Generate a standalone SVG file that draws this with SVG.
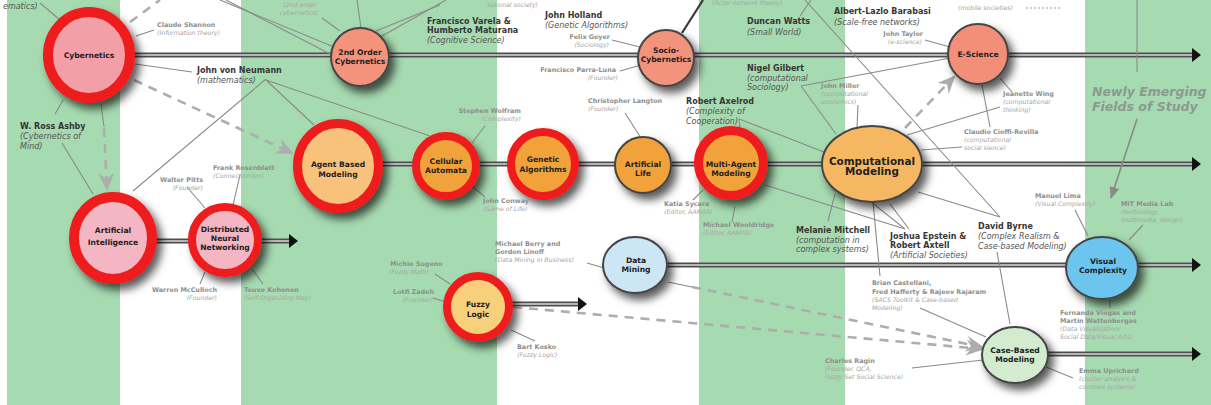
<svg xmlns="http://www.w3.org/2000/svg" width="1211" height="405" viewBox="0 0 1211 405">
<defs>
<style>
.band{fill:#a6dab0}
.tl{stroke:#4e4e4e;stroke-width:5;fill:none}
.tli{stroke:#d8d8d8;stroke-width:1.6;fill:none}
.ln{stroke:#8a8a8a;stroke-width:1.1;fill:none}
.lnd{stroke:#3a3a3a;stroke-width:2.2;fill:none}
.dash{stroke:#adadad;stroke-width:2.6;stroke-dasharray:9 7;fill:none}
.dot{stroke:#9a9a9a;stroke-width:1.2;stroke-dasharray:2 2;fill:none}
.ring{stroke:#ee1b1b}
.nb{stroke:#454545;stroke-width:2}
text{font-family:"DejaVu Sans","Liberation Sans",sans-serif}
.nt{font-weight:bold;font-size:7.6px;fill:#222;text-anchor:middle}
.pn{font-weight:bold;font-size:8px;fill:#363636}
.pi{font-style:italic;font-size:8px;fill:#555}
.sn{font-weight:bold;font-size:6.4px;fill:#8e8e8e}
.si{font-style:italic;font-size:6.2px;fill:#a6a6a6}
.end{text-anchor:end}
.big{font-weight:bold;font-style:italic;font-size:12.5px;fill:#8b9992}
</style>
<filter id="sh" x="-30%" y="-30%" width="180%" height="180%">
<feDropShadow dx="5" dy="6" stdDeviation="4" flood-color="#000" flood-opacity="0.65"/>
</filter>
<marker id="tarr" viewBox="0 0 9 14" refX="1" refY="7" markerWidth="9" markerHeight="14" markerUnits="userSpaceOnUse" orient="auto">
<path d="M0,0 L9,7 L0,14 z" fill="#111"/>
</marker>
<marker id="darr" viewBox="0 0 18 16" refX="16" refY="8" markerWidth="18" markerHeight="16" markerUnits="userSpaceOnUse" orient="auto">
<path d="M0,0 L18,8 L0,16 L6,8 z" fill="#adadad"/>
</marker>
<marker id="garr" viewBox="0 0 12 10" refX="11" refY="5" markerWidth="12" markerHeight="10" markerUnits="userSpaceOnUse" orient="auto">
<path d="M0,0 L12,5 L0,10 z" fill="#8a8a8a"/>
</marker>
</defs>

<rect width="1211" height="405" fill="#fff"/>
<g id="bands">
<rect class="band" x="7" y="0" width="113" height="405"/>
<rect class="band" x="241" y="0" width="256" height="405"/>
<rect class="band" x="699" y="0" width="146" height="405"/>
<rect class="band" x="1085" y="0" width="126" height="405"/>
</g>

<g id="connectors">
<line class="tl" x1="89" y1="55" x2="1193" y2="55" marker-end="url(#tarr)"/>
<line class="tli" x1="89" y1="55" x2="1192" y2="55"/>
<line class="tl" x1="338" y1="164" x2="1193" y2="164" marker-end="url(#tarr)"/>
<line class="tli" x1="338" y1="164" x2="1192" y2="164"/>
<line class="tl" x1="113" y1="241" x2="290" y2="241" marker-end="url(#tarr)"/>
<line class="tli" x1="113" y1="241" x2="289" y2="241"/>
<line class="tl" x1="478" y1="304" x2="579" y2="304" marker-end="url(#tarr)"/>
<line class="tli" x1="478" y1="304" x2="578" y2="304"/>
<line class="tl" x1="635" y1="265" x2="1193" y2="265" marker-end="url(#tarr)"/>
<line class="tli" x1="635" y1="265" x2="1192" y2="265"/>
<line class="tl" x1="1015" y1="354" x2="1193" y2="354" marker-end="url(#tarr)"/>
<line class="tli" x1="1015" y1="354" x2="1192" y2="354"/>

<line class="dash" x1="130" y1="22" x2="160" y2="0"/>
<line class="dash" x1="134" y1="80" x2="292" y2="153" marker-end="url(#darr)"/>
<path class="ln" d="M101,104 L104,127"/>
<line class="dash" x1="104" y1="128" x2="107" y2="189" marker-end="url(#darr)"/>
<line class="dash" x1="905" y1="128" x2="954" y2="77" marker-end="url(#darr)"/>
<line class="ln" x1="668" y1="282" x2="692" y2="287"/>
<line class="dash" x1="692" y1="287" x2="982" y2="347" marker-end="url(#darr)"/>
<line class="dash" x1="513" y1="307" x2="982" y2="349" marker-end="url(#darr)"/>

<line class="ln" x1="40" y1="3" x2="60" y2="20"/>
<line class="ln" x1="136" y1="36" x2="154" y2="30"/>
<line class="ln" x1="135" y1="64" x2="192" y2="72"/>
<line class="ln" x1="55" y1="114" x2="63" y2="100"/>
<line class="ln" x1="62" y1="143" x2="93" y2="194"/>
<line class="ln" x1="266" y1="79" x2="133" y2="191"/>
<line class="ln" x1="266" y1="80" x2="314" y2="125"/>
<line class="ln" x1="266" y1="80" x2="430" y2="136"/>
<line class="ln" x1="220" y1="0" x2="334" y2="47"/>
<line class="ln" x1="226" y1="0" x2="334" y2="56"/>
<line class="ln" x1="357" y1="0" x2="361" y2="28"/>
<line class="ln" x1="322" y1="18" x2="340" y2="31"/>
<line class="ln" x1="376" y1="31" x2="440" y2="5"/>
<line class="ln" x1="382" y1="36" x2="446" y2="0"/>
<line class="ln" x1="612" y1="40" x2="640" y2="47"/>
<line class="ln" x1="620" y1="71" x2="641" y2="65"/>
<line class="lnd" x1="682" y1="33" x2="703" y2="0"/>
<line class="ln" x1="800" y1="16" x2="811" y2="0"/>
<line class="ln" x1="805" y1="0" x2="1000" y2="217"/>
<line class="ln" x1="925" y1="40" x2="950" y2="47"/>
<line class="ln" x1="1000" y1="78" x2="1012" y2="92"/>
<line class="ln" x1="982" y1="85" x2="990" y2="127"/>
<line class="ln" x1="1137" y1="0" x2="1137" y2="72"/>
<line class="ln" x1="1137" y1="119" x2="1111" y2="198" marker-end="url(#garr)" style="stroke-width:1.6"/>
<line class="ln" x1="801" y1="86" x2="836" y2="134"/>
<line class="ln" x1="801" y1="86" x2="950" y2="58"/>
<line class="ln" x1="858" y1="105" x2="857" y2="128"/>
<line class="ln" x1="739" y1="119" x2="824" y2="152"/>
<line class="ln" x1="739" y1="119" x2="741" y2="138"/>
<line class="ln" x1="907" y1="135" x2="1000" y2="107"/>
<line class="ln" x1="921" y1="150" x2="962" y2="147"/>
<line class="ln" x1="835" y1="194" x2="828" y2="221"/>
<line class="ln" x1="870" y1="201" x2="905" y2="229"/>
<line class="ln" x1="890" y1="204" x2="909" y2="229"/>
<line class="ln" x1="765" y1="185" x2="905" y2="229"/>
<line class="ln" x1="873" y1="202" x2="880" y2="276"/>
<line class="ln" x1="918" y1="192" x2="1000" y2="217"/>
<line class="ln" x1="997" y1="252" x2="1010" y2="324"/>
<line class="ln" x1="920" y1="308" x2="986" y2="337"/>
<line class="ln" x1="912" y1="368" x2="983" y2="360"/>
<line class="ln" x1="1046" y1="367" x2="1073" y2="378"/>
<line class="ln" x1="1075" y1="210" x2="1088" y2="236"/>
<line class="ln" x1="1143" y1="225" x2="1129" y2="240"/>
<line class="ln" x1="1110" y1="296" x2="1110" y2="308"/>
<line class="ln" x1="485" y1="126" x2="472" y2="143"/>
<line class="ln" x1="472" y1="186" x2="485" y2="197"/>
<line class="ln" x1="625" y1="113" x2="641" y2="138"/>
<line class="ln" x1="703" y1="190" x2="693" y2="200"/>
<line class="ln" x1="735" y1="206" x2="732" y2="222"/>
<line class="ln" x1="240" y1="175" x2="233" y2="205"/>
<line class="ln" x1="187" y1="187" x2="205" y2="208"/>
<line class="ln" x1="205" y1="272" x2="200" y2="284"/>
<line class="ln" x1="252" y1="269" x2="263" y2="284"/>
<line class="ln" x1="435" y1="274" x2="450" y2="284"/>
<line class="ln" x1="433" y1="298" x2="446" y2="302"/>
<line class="ln" x1="511" y1="330" x2="535" y2="341"/>
<line class="ln" x1="587" y1="263" x2="604" y2="268"/>
<line class="dot" x1="1026" y1="8" x2="1062" y2="8"/>
</g>

<g id="n-cybernetics">
<ellipse cx="89" cy="55" rx="41" ry="43" fill="#f29fa8" class="ring" stroke-width="10" filter="url(#sh)"/>
<text class="nt" x="89" y="58">Cybernetics</text>
</g>
<g id="n-2nd-order">
<circle cx="360" cy="57" r="29" fill="#f4937c" class="nb" filter="url(#sh)"/>
<text class="nt" x="360" y="55">2nd Order</text>
<text class="nt" x="360" y="64">Cybernetics</text>
</g>
<g id="n-socio">
<circle cx="666" cy="58" r="28" fill="#f4937c" class="nb" filter="url(#sh)"/>
<text class="nt" x="666" y="53">Socio-</text>
<text class="nt" x="666" y="62">Cybernetics</text>
</g>
<g id="n-escience">
<circle cx="978" cy="54" r="30" fill="#f38f78" class="nb" filter="url(#sh)"/>
<text class="nt" x="978" y="57">E-Science</text>
</g>
<g id="n-abm">
<ellipse cx="338" cy="166" rx="40.5" ry="42.5" fill="#f8c27c" class="ring" stroke-width="9" filter="url(#sh)"/>
<text class="nt" x="338" y="167">Agent Based</text>
<text class="nt" x="338" y="177">Modeling</text>
</g>
<g id="n-ca">
<circle cx="446" cy="166" r="30" fill="#f2a23a" class="ring" stroke-width="8" filter="url(#sh)"/>
<text class="nt" x="446" y="164">Cellular</text>
<text class="nt" x="446" y="173">Automata</text>
</g>
<g id="n-ga">
<circle cx="543" cy="164" r="32" fill="#f2a23a" class="ring" stroke-width="8" filter="url(#sh)"/>
<text class="nt" x="543" y="162">Genetic</text>
<text class="nt" x="543" y="172">Algorithms</text>
</g>
<g id="n-alife">
<circle cx="643" cy="165" r="28" fill="#f2a23a" class="nb" filter="url(#sh)"/>
<text class="nt" x="643" y="167">Artificial</text>
<text class="nt" x="643" y="176">Life</text>
</g>
<g id="n-mam">
<circle cx="731" cy="163" r="32.5" fill="#f2a23a" class="ring" stroke-width="9" filter="url(#sh)"/>
<text class="nt" x="731" y="167">Multi-Agent</text>
<text class="nt" x="731" y="176">Modeling</text>
</g>
<g id="n-cm">
<ellipse cx="872" cy="164" rx="50" ry="38" fill="#f6b764" class="nb" filter="url(#sh)"/>
<text class="nt" x="872" y="165" style="font-size:10.4px">Computational</text>
<text class="nt" x="872" y="175" style="font-size:10.4px">Modeling</text>
</g>
<g id="n-ai">
<ellipse cx="113" cy="238" rx="39" ry="41" fill="#f4b6c2" class="ring" stroke-width="10" filter="url(#sh)"/>
<text class="nt" x="113" y="233">Artificial</text>
<text class="nt" x="113" y="245">Intelligence</text>
</g>
<g id="n-dnn">
<circle cx="225" cy="240" r="33" fill="#f4b6c2" class="ring" stroke-width="8" filter="url(#sh)"/>
<text class="nt" x="225" y="232">Distributed</text>
<text class="nt" x="225" y="241">Neural</text>
<text class="nt" x="225" y="250">Networking</text>
</g>
<g id="n-fuzzy">
<circle cx="478" cy="307" r="31" fill="#f8d07c" class="ring" stroke-width="8" filter="url(#sh)"/>
<text class="nt" x="478" y="307">Fuzzy</text>
<text class="nt" x="478" y="317">Logic</text>
</g>
<g id="n-dm">
<ellipse cx="635" cy="265" rx="32" ry="28" fill="#cde6f6" class="nb" filter="url(#sh)"/>
<text class="nt" x="636" y="263">Data</text>
<text class="nt" x="636" y="272">Mining</text>
</g>
<g id="n-vc">
<ellipse cx="1102" cy="268" rx="36" ry="31" fill="#6cc5ef" class="nb" filter="url(#sh)"/>
<text class="nt" x="1103" y="264">Visual</text>
<text class="nt" x="1103" y="273">Complexity</text>
</g>
<g id="n-cbm">
<ellipse cx="1015" cy="355" rx="33" ry="28" fill="#d3ecd0" class="nb" filter="url(#sh)"/>
<text class="nt" x="1015" y="353">Case-Based</text>
<text class="nt" x="1015" y="362">Modeling</text>
</g>

<g id="people">
<text class="pi" x="3" y="9">ematics)</text>
<text class="sn" x="157" y="27">Claude Shannon</text>
<text class="si" x="157" y="35">(Information theory)</text>
<text class="si end" x="316" y="7">(2nd order</text>
<text class="si end" x="318" y="15">cybernetics)</text>
<text class="si end" x="538" y="7">sational society)</text>
<text class="pn" x="427" y="24">Francisco Varela &amp;</text>
<text class="pn" x="427" y="33">Humberto Maturana</text>
<text class="pi" x="427" y="43">(Cognitive Science)</text>
<text class="pn" x="545" y="18">John Holland</text>
<text class="pi" x="545" y="28">(Genetic Algorithms)</text>
<text class="sn end" x="610" y="39">Felix Geyer</text>
<text class="si end" x="609" y="47">(Sociology)</text>
<text class="sn end" x="616" y="72">Francisco Parra-Luna</text>
<text class="si end" x="618" y="80">(Founder)</text>
<text class="si" x="712" y="5">(Actor network theory)</text>
<text class="pn" x="747" y="24">Duncan Watts</text>
<text class="pi" x="747" y="35">(Small World)</text>
<text class="pn" x="834" y="14">Albert-Lazlo Barabasi</text>
<text class="pi" x="834" y="25">(Scale-free networks)</text>
<text class="si" x="958" y="10">(mobile societies)</text>
<text class="sn end" x="923" y="36">John Taylor</text>
<text class="si end" x="922" y="44">(e-science)</text>
<text class="pn" x="197" y="73">John von Neumann</text>
<text class="pi" x="197" y="83">(mathematics)</text>
<text class="pn" x="747" y="71">Nigel Gilbert</text>
<text class="pi" x="747" y="81">(computational</text>
<text class="pi" x="747" y="90">Sociology)</text>
<text class="sn" x="821" y="88">John Miller</text>
<text class="si" x="821" y="96">(computational</text>
<text class="si" x="821" y="104">economics)</text>
<text class="sn" x="1003" y="96">Jeanette Wing</text>
<text class="si" x="1003" y="104">(computational</text>
<text class="si" x="1003" y="112">thinking)</text>
<text class="sn" x="964" y="134">Claudio Cioffi-Revilla</text>
<text class="si" x="964" y="142">(computational</text>
<text class="si" x="964" y="150">social sience)</text>
<text class="big" x="1092" y="96">Newly Emerging</text>
<text class="big" x="1092" y="111">Fields of Study</text>
<text class="pn" x="20" y="129">W. Ross Ashby</text>
<text class="pi" x="20" y="139">(Cybernetics of</text>
<text class="pi" x="20" y="149">Mind)</text>
<text class="sn end" x="521" y="113">Stephen Wolfram</text>
<text class="si end" x="521" y="121">(Complexity)</text>
<text class="sn" x="588" y="103">Christopher Langton</text>
<text class="si" x="588" y="111">(Founder)</text>
<text class="pn" x="686" y="104">Robert Axelrod</text>
<text class="pi" x="686" y="114">(Complexity of</text>
<text class="pi" x="686" y="124">Cooperation)</text>
<text class="sn" x="213" y="170">Frank Rosenblatt</text>
<text class="si" x="213" y="178">(Connectionism)</text>
<text class="sn end" x="203" y="182">Walter Pitts</text>
<text class="si end" x="203" y="190">(Founder)</text>
<text class="sn" x="483" y="203">John Conway</text>
<text class="si" x="483" y="211">(Game of Life)</text>
<text class="sn" x="664" y="206">Katia Sycara</text>
<text class="si" x="664" y="214">(Editor, AAMAS)</text>
<text class="sn" x="703" y="227">Michael Wooldridge</text>
<text class="si" x="703" y="235">(Editor, AAMAS)</text>
<text class="pn" x="796" y="233">Melanie Mitchell</text>
<text class="pi" x="796" y="243">(computation in</text>
<text class="pi" x="796" y="252">complex systems)</text>
<text class="pn" x="890" y="239">Joshua Epstein &amp;</text>
<text class="pn" x="890" y="248">Robert Axtell</text>
<text class="pi" x="890" y="258">(Artificial Societies)</text>
<text class="pn" x="978" y="229">David Byrne</text>
<text class="pi" x="978" y="239">(Complex Realism &amp;</text>
<text class="pi" x="978" y="249">Case-based Modeling)</text>
<text class="sn" x="1035" y="198">Manuel Lima</text>
<text class="si" x="1035" y="206">(Visual Complexity)</text>
<text class="sn" x="1121" y="206">MIT Media Lab</text>
<text class="si" x="1121" y="214">(technology,</text>
<text class="si" x="1121" y="222">multimedia, design)</text>
<text class="sn" x="495" y="246">Michael Berry and</text>
<text class="sn" x="495" y="254">Gordon Linoff</text>
<text class="si" x="495" y="262">(Data Mining in Business)</text>
<text class="sn" x="390" y="266">Michio Sugeno</text>
<text class="si" x="389" y="274">(Fuzzy Math)</text>
<text class="sn end" x="434" y="294">Lotfi Zadeh</text>
<text class="si end" x="433" y="302">(Founder)</text>
<text class="sn" x="517" y="349">Bart Kosko</text>
<text class="si" x="517" y="357">(Fuzzy Logic)</text>
<text class="sn end" x="217" y="292">Warren McCulloch</text>
<text class="si end" x="217" y="300">(Founder)</text>
<text class="sn" x="244" y="292">Teuvo Kohonen</text>
<text class="si" x="244" y="300">(Self-Organizing Map)</text>
<text class="sn" x="872" y="285">Brian Castellani,</text>
<text class="sn" x="872" y="294">Fred Hafferty &amp; Rajeev Rajaram</text>
<text class="si" x="872" y="302">(SACS Toolkit &amp; Case-based</text>
<text class="si" x="872" y="310">Modeling)</text>
<text class="sn" x="1060" y="315">Fernanda Viegas and</text>
<text class="sn" x="1060" y="323">Martin Wattenbergas</text>
<text class="si" x="1060" y="331">(Data Visualization/</text>
<text class="si" x="1060" y="339">Social Data/Visual Arts)</text>
<text class="sn" x="825" y="363">Charles Ragin</text>
<text class="si" x="825" y="371">(Founder, QCA,</text>
<text class="si" x="825" y="379">Fuzzy Set Social Science)</text>
<text class="sn" x="1079" y="373">Emma Uprichard</text>
<text class="si" x="1079" y="381">(cluster analysis &amp;</text>
<text class="si" x="1079" y="389">complex systems)</text>
</g>
</svg>
